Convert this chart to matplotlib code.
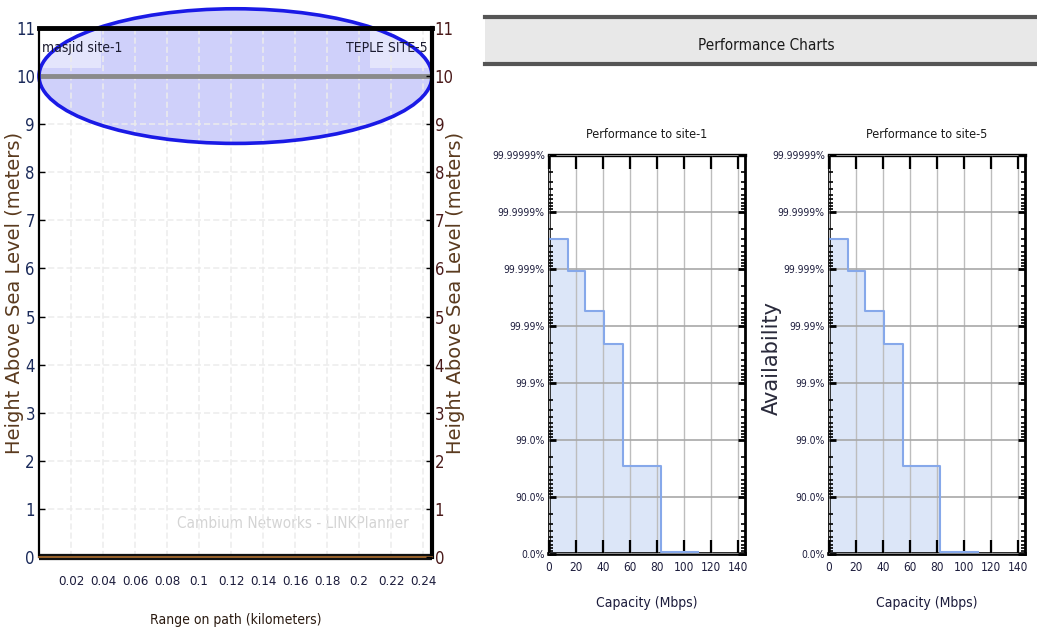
import numpy as np
import matplotlib
matplotlib.use("Agg")
import matplotlib.pyplot as plt
from matplotlib.patches import Ellipse, Rectangle
from matplotlib.lines import Line2D
from matplotlib import font_manager
from matplotlib.font_manager import FontProperties

# ---------------- data ----------------
# path profile
range_ticks_km = [0.02, 0.04, 0.06, 0.08, 0.10, 0.12, 0.14, 0.16, 0.18, 0.20, 0.22, 0.24]
range_tick_labels = ["0.02", "0.04", "0.06", "0.08", "0.1", "0.12", "0.14",
                     "0.16", "0.18", "0.2", "0.22", "0.24"]
height_ticks_m = [0, 1, 2, 3, 4, 5, 6, 7, 8, 9, 10, 11]
path_length_km = 0.2456
site_names = ["masjid site-1", "TEPLE SITE-5"]
antenna_heights_m = [10, 10]
fresnel_radius_m = 1.40
terrain_km = [0.0, 0.2456]
terrain_m = [0.0, 0.0]

# performance charts
capacity_edges_site1 = [0, 14, 27, 41, 55, 83, 110]
capacity_edges_site5 = [0, 14, 27, 41, 55, 82, 110]
availability_site1 = [99.9997, 99.9989, 99.9945, 99.979, 97.1, 7.7]
availability_site5 = [99.9997, 99.9989, 99.9945, 99.979, 97.1, 7.7]
capacity_ticks = [0, 20, 40, 60, 80, 100, 120, 140]
availability_ticks = [0.0, 90.0, 99.0, 99.9, 99.99, 99.999, 99.9999, 99.99999]
availability_labels = ["0.0%", "90.0%", "99.0%", "99.9%", "99.99%",
                       "99.999%", "99.9999%", "99.99999%"]

# ---------------- styling helpers ----------------
W, H = 1037, 636


def _find_narrow():
    for f in font_manager.fontManager.ttflist:
        tag = (f.name + " " + str(f.stretch)).lower()
        if ("narrow" in tag or "condensed" in tag) and f.style == "normal" \
                and f.weight in (400, "normal", "regular"):
            return f.fname
    return None


NARROW_FILE = _find_narrow()


def nfont(size):
    """Narrow UI font used for most labels."""
    if NARROW_FILE:
        return FontProperties(fname=NARROW_FILE, size=size)
    return FontProperties(family="Liberation Sans", size=size)


def fx(px):
    return px / W


def fy(py):
    return 1 - py / H


fig = plt.figure(figsize=(W / 100, H / 100), dpi=100)
fig.patch.set_facecolor("white")

# ---------------- path profile ----------------
ax = fig.add_axes([fx(39), fy(557), (432 - 39) / W, (557 - 28) / H])
ax.set_xlim(0, path_length_km)
ax.set_ylim(0, 11)

zone_centre = (path_length_km / 2, np.mean(antenna_heights_m))
ax.add_patch(Ellipse(zone_centre, width=path_length_km, height=2 * fresnel_radius_m,
                     facecolor="#cfd0fa", edgecolor="none", zorder=1, clip_on=False))
ax.add_patch(Ellipse(zone_centre, width=path_length_km, height=2 * fresnel_radius_m,
                     facecolor="none", edgecolor="#1a1ae6", linewidth=2.6, zorder=5,
                     clip_on=False))

# site label boxes
for x0, ha, name in [(0.0, "left", site_names[0]), (1.0, "right", site_names[1])]:
    bw = 62 / 393
    bx = x0 if ha == "left" else x0 - bw
    ax.add_patch(Rectangle((bx, 1 - 40 / 529), bw, 40 / 529, transform=ax.transAxes,
                           facecolor="white", alpha=0.45, edgecolor="none", zorder=2))
    ax.text(x0 + (0.008 if ha == "left" else -0.01), 1 - 20 / 529, name,
            transform=ax.transAxes, ha=ha, va="center", fontproperties=nfont(10),
            color="#1c1c30", zorder=6)

# line of sight
ax.plot([0, path_length_km], antenna_heights_m, color="#8a8a8a", linewidth=3.5,
        zorder=4, solid_capstyle="butt")
# terrain
ax.plot(terrain_km, terrain_m, color="#111111", linewidth=4.5, zorder=6, clip_on=False,
        solid_capstyle="butt")

ax.set_xticks(range_ticks_km, labels=range_tick_labels)
ax.set_yticks(height_ticks_m, labels=[str(v) for v in height_ticks_m])
ax.grid(True, color="#ececec", linewidth=1.1, linestyle=(0, (4, 2)))
ax.set_axisbelow(False)
for gl in ax.get_xgridlines() + ax.get_ygridlines():
    gl.set_zorder(3)
ax.tick_params(axis="x", length=0, pad=13, labelcolor="#1c1c3c")
ax.tick_params(axis="y", direction="in", length=4, width=1, pad=3, labelcolor="#1a2a5a")
for lab in ax.get_xticklabels():
    lab.set_fontproperties(nfont(9.5))
for lab in ax.get_yticklabels():
    lab.set_fontproperties(nfont(12))
ax.spines["top"].set_linewidth(3.5)
ax.spines["left"].set_linewidth(1.6)
ax.spines["right"].set_linewidth(3)
ax.spines["bottom"].set_color("#b07030")
ax.spines["bottom"].set_linewidth(1.2)
for s in ax.spines.values():
    s.set_zorder(7)

ax.set_xlabel("Range on path (kilometers)", fontproperties=nfont(10), color="#2a1a10")
ax.xaxis.set_label_coords(0.5, -(613 - 557) / 529)
ax.set_ylabel("Height Above Sea Level (meters)", fontsize=14, family="DejaVu Sans",
              color="#5a3a1e")
ax.yaxis.set_label_coords(-(39 - 24) / 393, 0.5)

ax_r = ax.twinx()
ax_r.set_ylim(0, 11)
ax_r.set_yticks(height_ticks_m, labels=[str(v) for v in height_ticks_m])
ax_r.tick_params(axis="y", direction="in", length=4, width=1, pad=2, labelcolor="#4a1a1a")
for lab in ax_r.get_yticklabels():
    lab.set_fontproperties(nfont(12))
for s in ax_r.spines.values():
    s.set_visible(False)
ax_r.set_ylabel("Height Above Sea Level (meters)", fontsize=14, family="DejaVu Sans",
                color="#5a3a1e", rotation=90)
ax_r.yaxis.set_label_coords((446 - 39) / 393, 0.5)

ax.text(0.94, (557 - 523) / 529, "Cambium Networks - LINKPlanner",
        transform=ax.transAxes, ha="right", va="center", fontproperties=nfont(11),
        color="#d4d4d4", zorder=2)

# ---------------- header bar ----------------
fig.add_artist(Rectangle((fx(485), fy(64)), 1 - fx(485), (64 - 17) / H,
                         transform=fig.transFigure, facecolor="#e8e8e8",
                         edgecolor="none"))
for py in (17, 64):
    fig.add_artist(Line2D([fx(485), 1.0], [fy(py), fy(py)], transform=fig.transFigure,
                          color="#555555", linewidth=3))
fig.text(fx(766), fy(46), "Performance Charts", ha="center", va="center",
         fontproperties=nfont(11), color="#1a1a1a")


# ---------------- performance charts ----------------
def to_nines(a):
    a = np.asarray(a, dtype=float)
    return -np.log10(np.clip(1 - a / 100.0, 1e-12, None))


def from_nines(n):
    n = np.asarray(n, dtype=float)
    return 100.0 * (1 - 10.0 ** (-n))


minor_avail = [100.0 * (1 - m * 10.0 ** -(k + 1)) for k in range(7) for m in range(2, 10)]


def perf_chart(left_px, edges, avail, title, ylabel_color):
    pa = fig.add_axes([fx(left_px), fy(554), 196 / W, (554 - 155) / H])
    pa.set_yscale("function", functions=(to_nines, from_nines))
    pa.set_xlim(0, 145)
    pa.set_ylim(0, 99.99999)

    levels = list(avail) + [avail[-1]]
    pa.fill_between(edges, levels, 0, step="post", facecolor="#dce6f8",
                    edgecolor="none", zorder=1)
    pa.step(edges, levels, where="post", color="#86a8ea", linewidth=1.5, zorder=3)

    pa.set_xticks(capacity_ticks, labels=[str(v) for v in capacity_ticks])
    pa.set_yticks(availability_ticks, labels=availability_labels)
    pa.set_yticks(minor_avail, minor=True)
    pa.grid(True, which="major", axis="y", color="#a8a8a8", linewidth=1.2)
    pa.grid(True, which="major", axis="x", color="#bdbdbd", linewidth=1.0)
    pa.set_axisbelow(False)
    for gl in pa.get_xgridlines() + pa.get_ygridlines():
        gl.set_zorder(2)
    pa.tick_params(axis="x", which="major", direction="in", top=True, bottom=True,
                   length=10, width=1.6, pad=5, labelcolor="#1c1c3c")
    pa.tick_params(axis="y", which="major", direction="in", left=True, right=True,
                   length=5, width=2, pad=3, labelcolor="#1c1c3c")
    pa.tick_params(axis="y", which="minor", direction="in", left=True, right=True,
                   length=3, width=1.2)
    for lab in pa.get_xticklabels():
        lab.set_fontproperties(nfont(8.5))
    for lab in pa.get_yticklabels():
        lab.set_fontproperties(nfont(7.5))
    for side, lw in (("top", 2.4), ("bottom", 2.6), ("left", 2.0), ("right", 2.0)):
        pa.spines[side].set_linewidth(lw)
    pa.set_title(title, fontproperties=nfont(9), color="#1a1a1a", pad=12)
    pa.set_xlabel("Capacity (Mbps)", fontproperties=nfont(10), color="#1c1c3c")
    pa.xaxis.set_label_coords(0.5, -(596 - 554) / 399)
    pa.set_ylabel("Availability", fontsize=15, family="DejaVu Sans", color=ylabel_color)
    pa.yaxis.set_label_coords(-(left_px - 782) / 196, 0.49)
    return pa


perf_chart(549, capacity_edges_site1, availability_site1, "Performance to site-1", "#e4e9f4")
perf_chart(829, capacity_edges_site5, availability_site5, "Performance to site-5", "#2a2a3a")

fig.savefig("out.png", dpi=100)
